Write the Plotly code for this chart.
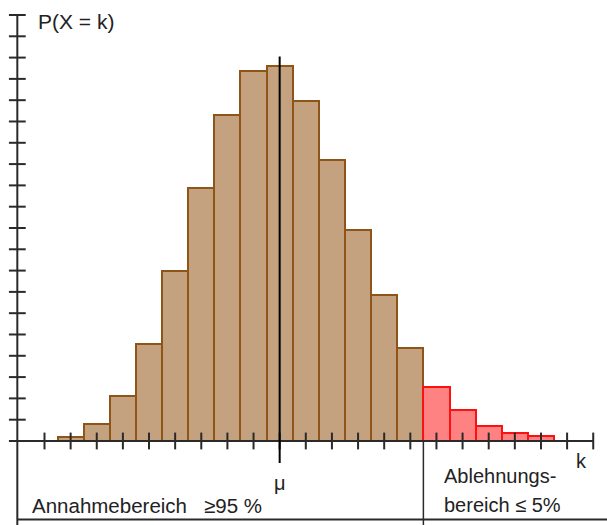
import plotly.graph_objects as go

# --- data (in y-tick units) ---
k_values = list(range(1, 20))
p_values = [0.20, 0.78, 2.11, 4.54, 7.98, 11.89, 15.30, 17.37, 17.62, 15.98,
            13.19, 9.89, 6.87, 4.38, 2.55, 1.46, 0.72, 0.36, 0.22]
critical = 14.5          # boundary between Annahme- and Ablehnungsbereich
mu = 9
x_ticks = list(range(0, 22))
y_ticks = list(range(0, 21))

y_label = "P(X = k)"
x_label = "k"
mu_label = "μ"
accept_label = "Annahmebereich\u00a0\u00a0\u00a0≥95 %"
reject_label1 = "Ablehnungs-"
reject_label2 = "bereich ≤ 5%"

k_acc = [k for k in k_values if k < critical]
p_acc = [p for k, p in zip(k_values, p_values) if k < critical]
k_rej = [k for k in k_values if k > critical]
p_rej = [p for k, p in zip(k_values, p_values) if k > critical]

axis_color = "#2a2a2a"
font = dict(family="Liberation Sans, Arial, sans-serif", size=20, color="#222222")

fig = go.Figure()
fig.add_trace(go.Bar(x=k_acc, y=p_acc, width=1,
                     marker=dict(color="#C4A17F", line=dict(color="#8E5418", width=2))))
fig.add_trace(go.Bar(x=k_rej, y=p_rej, width=1,
                     marker=dict(color="#FF8282", line=dict(color="#FF1010", width=2))))

y_axis_x = -1.04
# tick marks crossing the axes
fig.add_trace(go.Scatter(x=x_ticks, y=[0] * len(x_ticks), mode="markers",
                         marker=dict(symbol="line-ns", size=12,
                                     line=dict(color=axis_color, width=2)),
                         hoverinfo="skip"))
fig.add_trace(go.Scatter(x=[y_axis_x] * len(y_ticks), y=y_ticks, mode="markers",
                         marker=dict(symbol="line-ew", size=12,
                                     line=dict(color=axis_color, width=2)),
                         hoverinfo="skip"))

shapes = [
    # x axis
    dict(type="line", xref="x", yref="y", x0=-1.13, x1=x_ticks[-1], y0=0, y1=0,
         line=dict(color=axis_color, width=2)),
    # y axis
    dict(type="line", xref="x", yref="y", x0=y_axis_x, x1=y_axis_x, y0=y_ticks[-1], y1=-3.95,
         line=dict(color=axis_color, width=2)),
    # mu line
    dict(type="line", xref="x", yref="y", x0=mu, x1=mu, y0=18.05, y1=-1.03,
         line=dict(color="#000000", width=2)),
    # region boundary
    dict(type="line", xref="x", yref="y", x0=critical, x1=critical, y0=0, y1=-3.95,
         line=dict(color=axis_color, width=1.5)),
    # bottom line of the box
    dict(type="line", xref="x", yref="paper", x0=y_axis_x, x1=21.6, y0=0.0105, y1=0.0105,
         line=dict(color=axis_color, width=2)),
]

annotations = [
    dict(x=-0.33, y=19.7, text=y_label, xanchor="left", yanchor="middle", size=21),
    dict(x=20.55, y=-0.94, text=x_label, xanchor="center", yanchor="middle", size=20),
    dict(x=9.03, y=-1.97, text=mu_label, xanchor="center", yanchor="middle", size=20),
    dict(x=-0.55, y=-3.05, text=accept_label, xanchor="left", yanchor="middle", size=20.5),
    dict(x=15.2, y=-1.63, text=reject_label1, xanchor="left", yanchor="middle", size=20),
    dict(x=15.2, y=-3.0, text=reject_label2, xanchor="left", yanchor="middle", size=20),
]
for a in annotations:
    sz = a.pop("size")
    a.update(xref="x", yref="y", showarrow=False, font=dict(font, size=sz))

fig.update_layout(
    width=607, height=525,
    margin=dict(l=0, r=0, t=0, b=0),
    paper_bgcolor="white", plot_bgcolor="white",
    showlegend=False, bargap=0,
    shapes=shapes, annotations=annotations,
    xaxis=dict(range=[-1.703, 21.527], visible=False, fixedrange=True),
    yaxis=dict(range=[-3.944, 20.704], visible=False, fixedrange=True),
)

fig.write_html("out.html",
               config={"displayModeBar": False},
               post_script="document.body.style.margin='0';document.body.style.overflow='hidden';")
